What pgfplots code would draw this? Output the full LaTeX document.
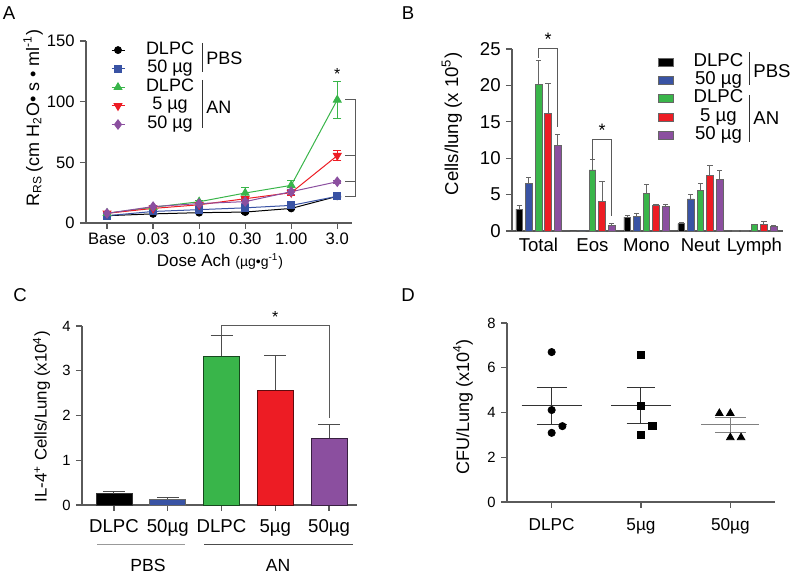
\documentclass[border=0pt]{standalone}
\usepackage{pgfplots}
\pgfplotsset{compat=1.18}
\usepackage{pgfplotstable}
\usepackage{fontspec}
\setmainfont{Liberation Sans}
\definecolor{cBlue}{RGB}{57,83,164}
\definecolor{cGreen}{RGB}{57,181,74}
\definecolor{cRed}{RGB}{237,28,36}
\definecolor{cPurple}{RGB}{139,79,159}
\definecolor{axgray}{RGB}{90,90,90}

\pgfplotstableread{
x k kE b bE g gE r rE p pE
0 6    0.5 6    0.5 8     0.8 8    0.8 8    0.8
1 7.5  0.5 9.5  0.8 13    1.0 12   1.0 13.5 1.0
2 8.5  0.6 11   0.8 17.5  1.2 15   1.2 16   1.2
3 9    0.8 12.5 1.0 24.7  4.5 20   1.5 17.6 1.5
4 12   1.2 14.5 1.2 31    4.0 25   2.0 25.8 2.0
5 22   1.0 22   1.0 101.5 15  55.5 4.0 34   1.5
}\dataA

\pgfplotstableread{
x k kE b bE g gE r rE p pE
0 3.0  0.5 6.5  0.8 20.1 3.3  16.1 4.2 11.8 1.5
1 0    0   0    0   8.4  1.4  4.1  2.7 0.8  0.2
2 1.9  0.2 2.0  0.4 5.2  1.2  3.5  0.15 3.4 0.2
3 1.0  0.2 4.4  0.6 5.6  0.9  7.6  1.4 7.1  1.2
4 0.05 0   0.05 0   0.9  0.05 0.9  0.4 0.6  0.1
}\dataB

\pgfplotstableread{
x y
1    6.7
1    4.11
1.12 3.39
1    3.09
}\dataDa
\pgfplotstableread{
x y
2     6.59
2     4.30
2.127 3.39
2     2.99
}\dataDb
\pgfplotstableread{
x y
2.877 3.96
3     3.96
3     2.88
3.12  2.88
}\dataDc

\pgfplotsset{
  common/.style={scale only axis, anchor=south west, axis lines=left,
    axis line style={-, axgray, line width=0.6pt},
    tick style={axgray, line width=0.6pt}, tick align=outside,
    major tick length=3pt, clip=false,
    /pgf/number format/assume math mode=true,
    yticklabel style={inner sep=0pt, xshift=-2.5pt},
    xticklabel style={inner sep=0pt, yshift=-2pt},
    ylabel style={anchor=center}},
}

\begin{document}
\begin{tikzpicture}
\useasboundingbox (0,0) rectangle (400pt,286pt);

% ---------------- Panel A ----------------
\begin{axis}[common, at={(43pt,174.5pt)}, width=133pt, height=91pt,
  xmin=-0.457, xmax=5.32, ymin=0, ymax=150,
  xtick={0,...,5}, xticklabels={Base,0.03,0.10,0.30,1.00,3.0},
  ytick={0,50,100,150},
  ticklabel style={font=\fontsize{8.3}{10}\selectfont},
  ylabel={R\textsubscript{RS}\,(cm H\textsubscript{2}O• s • ml\textsuperscript{-1})},
  ylabel style={at={(axis description cs:-0.199,0.577)}, font=\fontsize{9}{10}\selectfont},
  xlabel={Dose Ach {\fontsize{7}{8}\selectfont(µg•g\textsuperscript{-1})}},
  xlabel style={at={(axis description cs:0.504,-0.21)}, anchor=center, font=\fontsize{8.5}{10}\selectfont},
  legend style={at={(axis description cs:0.094,1.0)}, anchor=north west, draw=none, fill=none,
    inner sep=0pt, outer sep=0pt,
    font=\fontsize{9}{10}\selectfont,
    nodes={inner sep=0pt, text height=6.6pt, text depth=2.5pt},
    row sep=0.2pt, column sep=10.5pt},
  legend cell align=center,
  legend image code/.code={\draw[#1, mark repeat=2, mark phase=2] plot coordinates {(0pt,0pt) (3.25pt,0pt) (6.5pt,0pt)};},
  every axis plot/.append style={line width=0.5pt},
  error bars/error bar style={line width=0.5pt},
]
\addplot[black, mark=*, mark size=1.7pt, error bars/.cd, y dir=both, y explicit, error mark options={rotate=90, mark size=2pt}]
  table[x=x, y=k, y error=kE]{\dataA};
\addlegendentry{DLPC}
\addplot[cBlue, mark=square*, mark size=1.7pt, error bars/.cd, y dir=both, y explicit, error mark options={rotate=90, mark size=2pt}]
  table[x=x, y=b, y error=bE]{\dataA};
\addlegendentry{50 µg}
\addplot[cGreen, mark=triangle*, mark size=2.2pt, error bars/.cd, y dir=both, y explicit, error mark options={rotate=90, mark size=2pt}]
  table[x=x, y=g, y error=gE]{\dataA};
\addlegendentry{DLPC}
\addplot[cRed, mark=triangle*, mark size=2.2pt, mark options={rotate=180}, error bars/.cd, y dir=both, y explicit, error mark options={rotate=90, mark size=2pt}]
  table[x=x, y=r, y error=rE]{\dataA};
\addlegendentry{5 µg}
\addplot[cPurple, mark=diamond*, mark size=2.3pt, error bars/.cd, y dir=both, y explicit, error mark options={rotate=90, mark size=2pt}]
  table[x=x, y=p, y error=pE]{\dataA};
\addlegendentry{50 µg}
\draw[axgray, line width=0.5pt] (axis cs:5.17,101.5) -- (axis cs:5.39,101.5) -- (axis cs:5.39,22) -- (axis cs:5.17,22);
\draw[axgray, line width=0.5pt] (axis cs:5.17,55.5) -- (axis cs:5.39,55.5);
\draw[axgray, line width=0.5pt] (axis cs:5.17,34) -- (axis cs:5.39,34);
\node[font=\fontsize{8}{8}\selectfont, inner sep=0pt] at (axis cs:5,123) {*};
\end{axis}

% ---------------- Panel B ----------------
\begin{axis}[common, at={(256pt,170.5pt)}, width=135.5pt, height=91pt,
  xmin=-0.49, xmax=4.53, ymin=0, ymax=25,
  xtick={0,...,4}, xticklabels={Total,Eos,Mono,Neut,Lymph},
  xtick style={draw=none},
  ytick={0,5,...,25},
  ticklabel style={font=\fontsize{9.3}{10}\selectfont},
  xticklabel style={font=\fontsize{9.3}{10}\selectfont, yshift=1.5pt},
  ylabel={Cells/lung (x 10\textsuperscript{5})},
  ylabel style={at={(axis description cs:-0.222,0.588)}, font=\fontsize{9.3}{10}\selectfont},
  ybar=1.45pt, bar width=3.35pt,
  legend style={at={(axis description cs:0.539,0.979)}, anchor=north west, draw=none, fill=none,
    inner sep=0pt, outer sep=0pt,
    font=\fontsize{9.3}{10}\selectfont,
    nodes={inner sep=0pt, text height=6.6pt, text depth=2.5pt},
    row sep=0.1pt, column sep=10pt},
  legend cell align=center,
  legend image code/.code={\fill[#1] (0pt,-2pt) rectangle (7.5pt,2pt);},
  every axis plot/.append style={draw=black!60, line width=0.3pt},
  error bars/error bar style={line width=0.5pt, black!60},
]
\addplot[fill=black, error bars/.cd, y dir=plus, y explicit, error mark options={rotate=90, mark size=1.3pt}]
  table[x=x, y=k, y error=kE]{\dataB};
\addlegendentry{DLPC}
\addplot[fill=cBlue, error bars/.cd, y dir=plus, y explicit, error mark options={rotate=90, mark size=1.3pt}]
  table[x=x, y=b, y error=bE]{\dataB};
\addlegendentry{50 µg}
\addplot[fill=cGreen, error bars/.cd, y dir=plus, y explicit, error mark options={rotate=90, mark size=1.3pt}]
  table[x=x, y=g, y error=gE]{\dataB};
\addlegendentry{DLPC}
\addplot[fill=cRed, error bars/.cd, y dir=plus, y explicit, error mark options={rotate=90, mark size=1.3pt}]
  table[x=x, y=r, y error=rE]{\dataB};
\addlegendentry{5 µg}
\addplot[fill=cPurple, error bars/.cd, y dir=plus, y explicit, error mark options={rotate=90, mark size=1.3pt}]
  table[x=x, y=p, y error=pE]{\dataB};
\addlegendentry{50 µg}
\draw[axgray, line width=0.5pt] (axis cs:0,23.8) -- (axis cs:0,25) -- (axis cs:0.356,25) -- (axis cs:0.356,14.3);
\draw[axgray, line width=0.5pt] (axis cs:1,9.75) -- (axis cs:1,12.5) -- (axis cs:1.356,12.5) -- (axis cs:1.356,2.0);
\node[font=\fontsize{9}{9}\selectfont, inner sep=0pt] at (axis cs:0.178,26.3) {*};
\node[font=\fontsize{9}{9}\selectfont, inner sep=0pt] at (axis cs:1.178,13.8) {*};
\end{axis}

% ---------------- Panel C ----------------
\begin{axis}[common, at={(41pt,33.5pt)}, width=137.5pt, height=89.5pt,
  xmin=0.405, xmax=5.52, ymin=0, ymax=4,
  xtick={1,...,5}, xticklabels={DLPC,50µg,DLPC,5µg,50µg},
  ytick={0,...,4},
  ticklabel style={font=\fontsize{7.4}{9}\selectfont},
  xticklabel style={font=\fontsize{9.3}{10}\selectfont, yshift=-2pt},
  ylabel={IL-4\textsuperscript{+} Cells/Lung (x10\textsuperscript{4})},
  ylabel style={at={(axis description cs:-0.147,0.494)}, font=\fontsize{8.4}{10}\selectfont},
  ybar, bar width=18pt, bar shift=0pt,
  every axis plot/.append style={line width=0.4pt},
  error bars/error bar style={line width=0.5pt, black!70},
]
\addplot[fill=black, draw=black!80, error bars/.cd, y dir=plus, y explicit, error mark options={rotate=90, mark size=5.5pt}]
  coordinates {(1,0.25) +- (0,0.06)};
\addplot[fill=cBlue, draw=black!60, error bars/.cd, y dir=plus, y explicit, error mark options={rotate=90, mark size=5.5pt}]
  coordinates {(2,0.13) +- (0,0.03)};
\addplot[fill=cGreen, draw=black!60!cGreen, error bars/.cd, y dir=plus, y explicit, error mark options={rotate=90, mark size=5.5pt}]
  coordinates {(3,3.32) +- (0,0.48)};
\addplot[fill=cRed, draw=black!60!cRed, error bars/.cd, y dir=plus, y explicit, error mark options={rotate=90, mark size=5.5pt}]
  coordinates {(4,2.57) +- (0,0.77)};
\addplot[fill=cPurple, draw=black!60!cPurple, error bars/.cd, y dir=plus, y explicit, error mark options={rotate=90, mark size=5.5pt}]
  coordinates {(5,1.49) +- (0,0.31)};
\draw[axgray, line width=0.5pt] (axis cs:3,3.8) -- (axis cs:3,4) -- (axis cs:5,4) -- (axis cs:5,1.95);
\node[font=\fontsize{8}{8}\selectfont, inner sep=0pt] at (axis cs:4,4.2) {*};
\end{axis}

% ---------------- Panel D ----------------
\begin{axis}[common, at={(253.5pt,35pt)}, width=134pt, height=89.5pt,
  xmin=0.5, xmax=3.5, ymin=0, ymax=8,
  xtick={1,2,3}, xticklabels={DLPC,5µg,50µg},
  ytick={0,2,...,8},
  ticklabel style={font=\fontsize{7.4}{9}\selectfont},
  xticklabel style={font=\fontsize{8.6}{10}\selectfont, yshift=-3pt},
  ylabel={CFU/Lung (x10\textsuperscript{4})},
  ylabel style={at={(axis description cs:-0.164,0.53)}, font=\fontsize{9}{10}\selectfont},
]
\addplot[only marks, mark=*, mark size=1.8pt, black] table[x=x,y=y]{\dataDa};
\addplot[only marks, mark=square*, mark size=1.8pt, black] table[x=x,y=y]{\dataDb};
\addplot[only marks, mark=triangle*, mark size=2.2pt, black] table[x=x,y=y]{\dataDc};
% mean and SEM
\addplot[black!80, line width=0.5pt] coordinates {(0.665,4.30) (1.335,4.30)};
\addplot[black!80, line width=0.5pt] coordinates {(0.832,5.13) (1.168,5.13)};
\addplot[black!80, line width=0.5pt] coordinates {(0.832,3.48) (1.168,3.48)};
\addplot[black!80, line width=0.5pt] coordinates {(1,3.48) (1,5.13)};
\addplot[black!80, line width=0.5pt] coordinates {(1.665,4.30) (2.335,4.30)};
\addplot[black!80, line width=0.5pt] coordinates {(1.84,5.13) (2.16,5.13)};
\addplot[black!80, line width=0.5pt] coordinates {(1.84,3.51) (2.16,3.51)};
\addplot[black!80, line width=0.5pt] coordinates {(2,3.51) (2,5.13)};
\addplot[black!50, line width=0.5pt] coordinates {(2.675,3.45) (3.324,3.45)};
\addplot[black!50, line width=0.5pt] coordinates {(2.83,3.78) (3.17,3.78)};
\addplot[black!50, line width=0.5pt] coordinates {(2.83,3.12) (3.17,3.12)};
\addplot[black!50, line width=0.5pt] coordinates {(3,3.12) (3,3.78)};
\end{axis}

% ---------------- Annotations (pixel coordinates) ----------------
\begin{scope}[x=0.5pt, y=-0.5pt, yshift=286pt]
  \node[font=\fontsize{9.3}{10}\selectfont] at (9,13) {A};
  \node[font=\fontsize{9.3}{10}\selectfont] at (408,13) {B};
  \node[font=\fontsize{9.3}{10}\selectfont] at (20,295) {C};
  \node[font=\fontsize{9.3}{10}\selectfont] at (408,295) {D};
  % A legend groups
  \draw[black!80, line width=0.5pt] (202,43) -- (202,72);
  \draw[black!80, line width=0.5pt] (202,80) -- (202,128);
  \node[anchor=west, inner sep=0pt, font=\fontsize{9}{10}\selectfont] at (206,58) {PBS};
  \node[anchor=west, inner sep=0pt, font=\fontsize{9}{10}\selectfont] at (206,107) {AN};
  % B legend groups
  \draw[black!80, line width=0.5pt] (749,52) -- (749,85);
  \draw[black!80, line width=0.5pt] (749,95) -- (749,142);
  \node[anchor=west, inner sep=0pt, font=\fontsize{9.3}{10}\selectfont] at (753,71) {PBS};
  \node[anchor=west, inner sep=0pt, font=\fontsize{9.3}{10}\selectfont] at (753,118) {AN};
  % C group lines
  \draw[black!40, line width=0.5pt] (97,545) -- (185,545);
  \draw[black!70, line width=0.5pt] (204,545) -- (353,545);
  \node[font=\fontsize{8.8}{10}\selectfont] at (148,565) {PBS};
  \node[font=\fontsize{8.8}{10}\selectfont] at (278,565) {AN};
\end{scope}
\end{tikzpicture}
\end{document}
